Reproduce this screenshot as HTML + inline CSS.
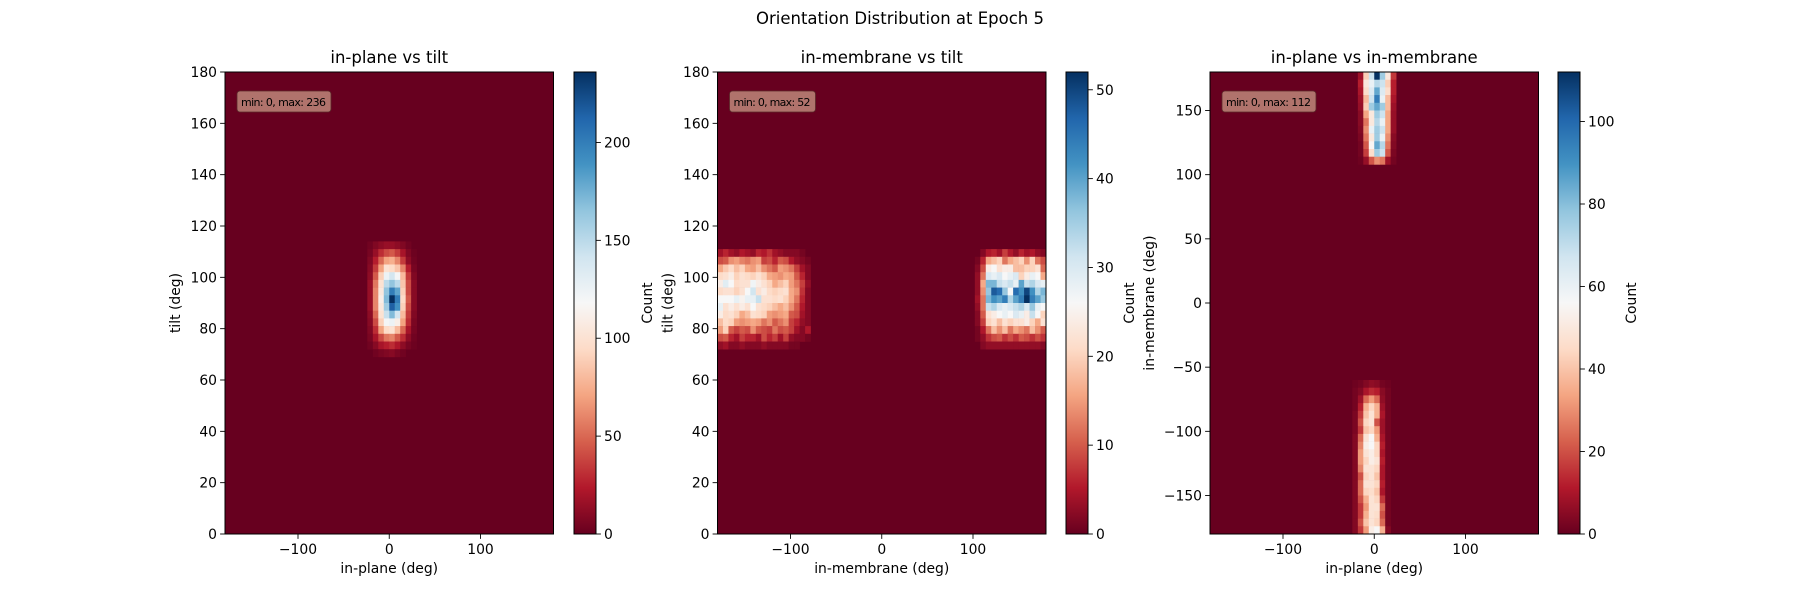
<!DOCTYPE html>
<html><head><meta charset="utf-8"><style>
html,body{margin:0;padding:0;background:#fff;}
svg{display:block;font-family:"DejaVu Sans","Liberation Sans",sans-serif;}
</style></head><body>
<svg id="fig" width="1800" height="600" viewBox="0 0 1800 600" xmlns="http://www.w3.org/2000/svg">
<defs>
<linearGradient id="rdbu" x1="0" y1="1" x2="0" y2="0">
<stop offset="0" stop-color="#67001f"/><stop offset="0.1" stop-color="#b2182b"/><stop offset="0.2" stop-color="#d6604d"/><stop offset="0.3" stop-color="#f4a582"/><stop offset="0.4" stop-color="#fddbc7"/><stop offset="0.5" stop-color="#f7f7f7"/><stop offset="0.6" stop-color="#d1e5f0"/><stop offset="0.7" stop-color="#92c5de"/><stop offset="0.8" stop-color="#4393c3"/><stop offset="0.9" stop-color="#2166ac"/><stop offset="1" stop-color="#053061"/>
</linearGradient>
</defs>
<text x="900" y="24" font-size="16.5" text-anchor="middle">Orientation Distribution at Epoch 5</text>
</svg>
<script>
// ---- Panel 1: in-plane vs tilt ----
const p1Cols = [-24,-18,-12,-6,0,6,12,18,24];
const p1RowsStart = [111,108,105,102,99,96,93,90,87,84,81,78,75,72,69];
const p1Values = [
[3,8,12,15,15,12,8,3,0],
[5,15,30,40,45,35,20,8,2],
[8,25,50,70,75,60,35,12,3],
[10,35,70,100,95,85,60,25,5],
[12,45,90,125,140,120,80,35,8],
[15,55,100,150,165,150,85,40,10],
[15,60,105,165,200,180,90,40,10],
[15,60,110,170,236,200,95,45,10],
[15,60,105,160,215,190,90,40,10],
[12,50,100,145,170,140,80,35,8],
[10,40,90,120,125,110,70,30,6],
[8,30,70,95,100,80,50,20,5],
[6,20,40,55,60,45,30,12,3],
[3,10,20,25,30,22,12,5,2],
[0,3,6,8,10,6,3,0,0]];
// ---- Panel 2: in-membrane vs tilt ----
const p2RowsStart = [108,105,102,99,96,93,90,87,84,81,78,75,72];
const p2LeftCols = [-180,-174,-168,-162,-156,-150,-144,-138,-132,-126,-120,-114,-108,-102,-96,-90,-84];
const p2LeftValues = [
[4,6,4,3,5,4,3,6,5,7,4,3,2,2,2,1,0],
[9,10,14,15,13,12,14,15,8,9,6,10,9,5,3,2,1],
[16,19,21,18,20,16,15,18,14,12,10,15,14,12,8,4,2],
[21,22,24,20,22,21,20,22,20,16,15,14,16,15,10,6,2],
[24,29,26,21,22,22,27,24,22,20,16,18,20,15,12,8,3],
[21,22,22,20,22,26,31,22,24,21,20,21,22,16,14,7,2],
[26,26,26,28,25,28,28,32,22,22,21,22,20,16,12,6,2],
[28,22,24,22,24,22,26,22,21,20,18,16,18,14,10,5,2],
[24,21,22,20,16,18,22,21,20,15,14,15,16,10,9,4,2],
[18,21,20,15,14,15,16,15,12,14,10,12,14,8,6,3,2],
[15,20,10,8,10,9,14,10,9,8,12,9,10,8,4,2,5],
[9,10,6,4,8,6,6,4,9,6,8,4,8,3,2,2,1],
[3,4,2,2,3,2,2,2,3,2,2,2,2,1,1,0,0]];
const p2RightCols = [102,108,114,120,126,132,138,144,150,156,162,168,174];
const p2RightValues = [
[0,2,5,6,4,8,5,3,6,4,5,3,2],
[1,6,16,18,20,12,16,18,20,14,20,12,9],
[2,9,24,26,22,24,24,18,18,20,20,22,11],
[3,12,30,28,30,26,28,30,20,24,28,26,16],
[3,16,38,38,32,30,32,28,40,32,34,30,28],
[3,14,36,48,46,36,26,46,42,50,42,34,38],
[4,12,38,42,40,44,34,40,44,52,44,40,36],
[3,12,32,34,30,28,30,32,34,30,36,28,26],
[2,10,22,24,26,28,26,30,28,24,32,26,20],
[2,8,20,22,18,22,20,22,22,24,20,16,22],
[1,5,12,18,14,18,12,16,14,12,18,14,10],
[1,3,7,9,10,7,9,7,10,9,7,9,7],
[0,2,3,3,3,3,3,3,3,3,3,3,2]];
// ---- Panel 3: in-plane vs in-membrane ----
const p3TopCols = [-18,-12,-6,0,6,12,18];
const p3TopRowsStart = [174,168,162,156,150,144,138,132,126,120,114,108];
const p3TopValues = [
[8,42,68,112,76,50,16],
[12,50,60,72,68,42,12],
[10,46,64,85,64,46,12],
[8,38,68,95,60,38,10],
[7,42,76,85,76,38,8],
[5,34,50,76,68,34,7],
[5,26,50,72,60,34,7],
[4,30,60,76,68,34,7],
[3,26,50,76,60,30,5],
[2,21,55,85,72,26,4],
[2,17,46,76,68,21,3],
[1,7,21,30,26,8,2]];
const p3BotCols = [-24,-18,-12,-6,0,6,12];
const p3BotRowsStart = [-66,-72,-78,-84,-90,-96,-102,-108,-114,-120,-126,-132,-138,-144,-150,-156,-162,-168,-174,-180];
const p3BotValues = [
[1,2,4,6,5,2,1],[2,4,10,14,12,5,2],[2,8,24,32,24,6,2],[2,12,36,44,36,8,2],
[3,16,40,48,36,10,2],[3,20,44,48,20,8,2],[3,16,40,44,32,8,2],[4,24,48,56,36,10,2],
[4,28,52,56,44,12,2],[4,32,48,52,44,10,2],[4,32,44,52,48,12,2],[4,28,48,48,44,10,2],
[4,20,44,48,40,10,2],[4,24,48,48,44,12,2],[4,24,44,46,40,10,2],[4,20,36,48,44,16,2],
[4,16,32,48,48,24,2],[4,16,36,48,46,20,2],[4,20,40,48,44,24,2],[4,16,32,52,56,36,4]];
const vmaxes = [236,52,112];
const cbTicks = [[0,50,100,150,200],[0,10,20,30,40,50],[0,20,40,60,80,100]];
const xTicks = [-100,0,100];
const yTicks1 = [0,20,40,60,80,100,120,140,160,180];
const yTicks3 = [-150,-100,-50,0,50,100,150];
const titles = ["in-plane vs tilt","in-membrane vs tilt","in-plane vs in-membrane"];
const xLabels = ["in-plane (deg)","in-membrane (deg)","in-plane (deg)"];
const yLabels = ["tilt (deg)","tilt (deg)","in-membrane (deg)"];

const NS="http://www.w3.org/2000/svg";
const svg=document.getElementById('fig');
const stops=["#67001f","#b2182b","#d6604d","#f4a582","#fddbc7","#f7f7f7","#d1e5f0","#92c5de","#4393c3","#2166ac","#053061"].map(h=>[parseInt(h.substr(1,2),16),parseInt(h.substr(3,2),16),parseInt(h.substr(5,2),16)]);
function cmap(t){t=Math.max(0,Math.min(1,t));const f=t*10;const i=Math.min(9,Math.floor(f));const r=f-i;const a=stops[i],b=stops[i+1];
return `rgb(${Math.round(a[0]+(b[0]-a[0])*r)},${Math.round(a[1]+(b[1]-a[1])*r)},${Math.round(a[2]+(b[2]-a[2])*r)})`;}
function mk(tag,attrs,parent){const e=document.createElementNS(NS,tag);for(const k in attrs)e.setAttribute(k,attrs[k]);(parent||svg).appendChild(e);return e;}

const AX=[225,717.5,1210], AW=328.5, AT=72, AB=534, AH=AB-AT;
const CBX=[574,1066,1558], CBW=22;
const yRanges=[[0,180],[0,180],[-180,180]];

function xScale(p,v){return AX[p]+(v+180)/360*AW;}
function yScale(p,v){const r=yRanges[p];return AB-(v-r[0])/(r[1]-r[0])*AH;}

function drawBlock(p,g,cols,rowsStart,vals,binY,name){
  rowsStart.forEach((y0,ri)=>{cols.forEach((x0,ci)=>{
    const v=vals[ri][ci]; if(v<=0)return;
    const x1=xScale(p,x0), x2=xScale(p,x0+6), yA=yScale(p,y0+binY), yB=yScale(p,y0);
    const r=mk('rect',{x:x1.toFixed(2),y:yA.toFixed(2),width:(x2-x1+0.3).toFixed(2),height:(yB-yA+0.3).toFixed(2),fill:cmap(v/vmaxes[p])},g);
    
    
  });});
}
function text(x,y,s,attrs,name){const t=mk('text',Object.assign({x:x,y:y,'font-size':13.9},attrs||{}));t.textContent=s;
  
  
  return t;}

for(let p=0;p<3;p++){
  const g=mk('g',{});
  
  
  const bg=mk('rect',{x:AX[p],y:AT,width:AW,height:AH,fill:'#67001f'},g);
  
  
  if(p===0) drawBlock(0,g,p1Cols,p1RowsStart,p1Values,3,'heatmap-cell');
  if(p===1){drawBlock(1,g,p2LeftCols,p2RowsStart,p2LeftValues,3,'heatmap-cell');drawBlock(1,g,p2RightCols,p2RowsStart,p2RightValues,3,'heatmap-cell');}
  if(p===2){drawBlock(2,g,p3TopCols,p3TopRowsStart,p3TopValues,6,'heatmap-cell');drawBlock(2,g,p3BotCols,p3BotRowsStart,p3BotValues,6,'heatmap-cell');}
  const fr=mk('rect',{x:AX[p],y:AT,width:AW,height:AH,fill:'none',stroke:'#000','stroke-width':1},g);
  
  
  xTicks.forEach(v=>{const x=xScale(p,v);mk('line',{x1:x,x2:x,y1:AB,y2:AB+4.9,stroke:'#000','stroke-width':0.9},g);
    text(x,AB+20,v<0?'\u2212'+Math.abs(v):String(v),{'text-anchor':'middle'},'x-tick-label');});
  const yt=p===2?yTicks3:yTicks1;
  yt.forEach(v=>{const y=yScale(p,v);mk('line',{x1:AX[p]-4.9,x2:AX[p],y1:y,y2:y,stroke:'#000','stroke-width':0.9},g);
    text(AX[p]-8,y+5,v<0?'\u2212'+Math.abs(v):String(v),{'text-anchor':'end'},'y-tick-label');});
  text(AX[p]+AW/2,AT-9,titles[p],{'text-anchor':'middle','font-size':16.5},'axes-title');
  text(AX[p]+AW/2,AB+39,xLabels[p],{'text-anchor':'middle'},'x-axis-title');
  const ylx=p===2?AX[p]-56:AX[p]-45;
  text(ylx,(AT+AB)/2,yLabels[p],{'text-anchor':'middle',transform:`rotate(-90 ${ylx} ${(AT+AB)/2})`},'y-axis-title');
  const bw=p===1?86:94;
  const bx=mk('rect',{x:AX[p]+12,y:91,width:bw,height:21,rx:3,fill:'#b0736c',stroke:'#5a2a2a','stroke-width':0.8},g);
  
  
  text(AX[p]+16,106,'min: 0, max: '+vmaxes[p],{'font-size':11,textLength:bw-9,lengthAdjust:'spacing'},'min-max-annotation');
  const cb=mk('rect',{x:CBX[p],y:AT,width:CBW,height:AH,fill:'url(#rdbu)',stroke:'#000','stroke-width':1},g);
  
  
  cbTicks[p].forEach(v=>{const y=AB-v/vmaxes[p]*AH;mk('line',{x1:CBX[p]+CBW,x2:CBX[p]+CBW+4.9,y1:y,y2:y,stroke:'#000','stroke-width':0.9},g);
    text(CBX[p]+CBW+8,y+5,String(v),{},'colorbar-tick-label');});
  const clx=CBX[p]+CBW+(p===0?56:p===1?46:56);
  text(clx,(AT+AB)/2,'Count',{'text-anchor':'middle',transform:`rotate(-90 ${clx} ${(AT+AB)/2})`},'colorbar-label');
}
</script>
</body></html>
